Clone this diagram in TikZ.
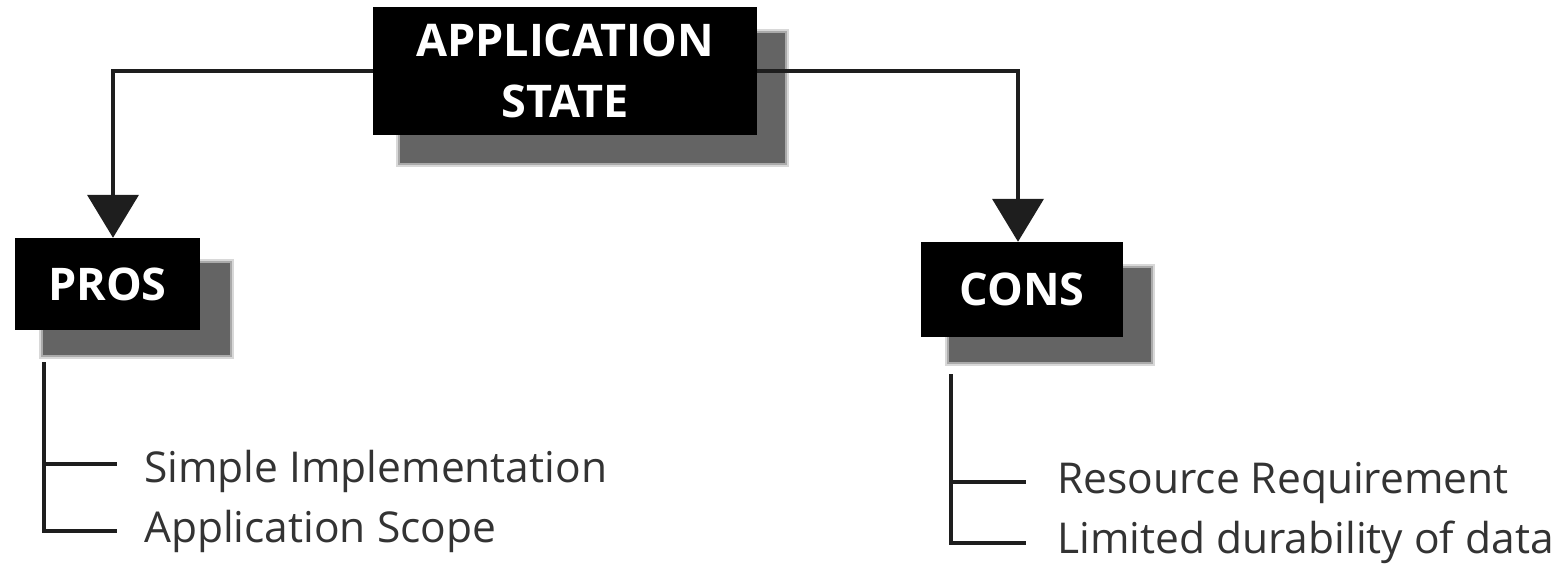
\documentclass[tikz,border=0pt]{standalone}
\usepackage{fontspec}
\setmainfont{Open Sans}
\usetikzlibrary{arrows.meta}
\definecolor{linec}{HTML}{1E1E1E}
\definecolor{textc}{HTML}{333333}
\definecolor{shadowc}{HTML}{646464}
\tikzset{
  boxnode/.style={fill=black, text=white, inner sep=0pt, align=center,
    font=\bfseries\fontsize{45}{61}\selectfont},
  conn/.style={draw=linec, line width=4pt, -{Triangle[width=51pt,length=43pt]}},
  listline/.style={draw=linec, line width=3.5pt},
  item/.style={anchor=base west, inner sep=0pt, text=textc,
    font=\fontsize{42.5}{50}\selectfont},
}
\newcommand{\softshadow}[4]{%
  \fill[shadowc, opacity=0.25] (#1-4,#2-4) rectangle (#3+4,#4+4);
  \fill[shadowc, opacity=0.4] (#1-2,#2-2) rectangle (#3+2,#4+2);
  \fill[shadowc] (#1,#2) rectangle (#3,#4);
}
\begin{document}
\begin{tikzpicture}[x=1pt,y=-1pt]
\useasboundingbox (0,0) rectangle (1560,567);
% shadows
\softshadow{400}{33}{785}{163}
\softshadow{43}{263}{230}{355}
\softshadow{949}{268}{1151}{362}
% boxes
\node[boxnode, minimum width=384pt, minimum height=128pt] (top) at (565,71) {APPLICATION\\STATE};
\node[boxnode, minimum width=185pt, minimum height=92pt] (pros) at (107.5,284) {PROS};
\node[boxnode, minimum width=202pt, minimum height=95pt] (cons) at (1022,289.5) {CONS};
% connector x positions
\coordinate (xl) at (113,0);
\coordinate (xr) at (1018,0);
\draw[conn] (top.west) -| (pros.north -| xl);
\draw[conn] (top.east) -| (cons.north -| xr);
% pros list
\coordinate (p0) at (44,362);
\coordinate (p1) at (44,464);
\coordinate (p2) at (44,531);
\coordinate (p1e) at (117,464);
\coordinate (p2e) at (117,531);
\draw[listline] (p0) -- (p2) -- (p2e);
\draw[listline] (p1) -- (p1e);
\node[item] (s1) at (144,482) {Simple Implementation};
\node[item] (s2) at (144,542) {Application Scope};
% cons list
\coordinate (c0) at (951,374);
\coordinate (c1) at (951,482);
\coordinate (c2) at (951,543);
\coordinate (c1e) at (1026,482);
\coordinate (c2e) at (1026,543);
\draw[listline] (c0) -- (c2) -- (c2e);
\draw[listline] (c1) -- (c1e);
\node[item] (r1) at (1057,493) {Resource Requirement};
\node[item] (r2) at (1057,553) {Limited durability of data};
\end{tikzpicture}
\end{document}
